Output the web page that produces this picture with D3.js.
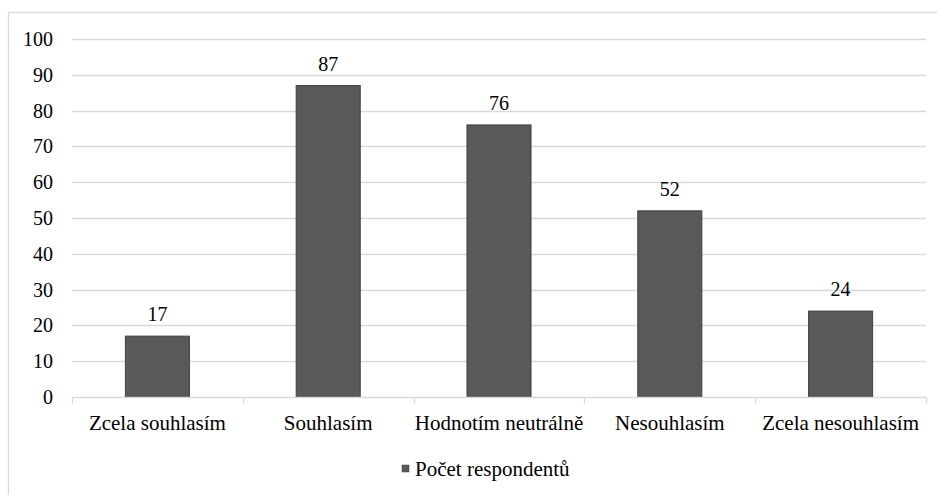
<!DOCTYPE html>
<html>
<head>
<meta charset="utf-8">
<script src="https://cdn.jsdelivr.net/npm/d3@7"></script>
<style>
  html, body { margin: 0; padding: 0; background: #fff; }
  svg { display: block; }
</style>
</head>
<body>
<svg id="chart" width="937" height="495"></svg>
<script>
// Survey answers and the number of respondents per answer
const categories = ["Zcela souhlasím", "Souhlasím", "Hodnotím neutrálně", "Nesouhlasím", "Zcela nesouhlasím"];
const values = [17, 87, 76, 52, 24];
const yTicks = [0, 10, 20, 30, 40, 50, 60, 70, 80, 90, 100];
const seriesName = "Počet respondentů";

const FONT = "'Liberation Serif'";
const svg = d3.select("#chart");
const W = 937, H = 495;
const margin = { left: 72, right: 11, top: 39, bottom: 98 };

// Chart area frame
svg.append("rect")
  .attr("x", 8.5).attr("y", 12.5)
  .attr("width", W + 10).attr("height", H + 10)
  .attr("fill", "#fff").attr("stroke", "#d9d9d9").attr("stroke-width", 1.3);

const x = d3.scaleBand()
  .domain(categories)
  .range([margin.left, W - margin.right])
  .paddingInner(0.625).paddingOuter(0.3125);

const y = d3.scaleLinear()
  .domain([0, 100])
  .range([H - margin.bottom, margin.top]);

// Horizontal gridlines
svg.append("g")
  .selectAll("line")
  .data(yTicks.filter(t => t > 0))
  .join("line")
  .attr("x1", margin.left).attr("x2", W - margin.right)
  .attr("y1", d => Math.round(y(d)) + 0.5).attr("y2", d => Math.round(y(d)) + 0.5)
  .attr("stroke", "#d9d9d9").attr("stroke-width", 1.3);

// Y axis labels
const gy = svg.append("g");
gy.selectAll("text")
  .data(yTicks)
  .join("text")
  .attr("x", 53)
  .attr("y", d => y(d))
  .attr("dy", "0.35em")
  .attr("text-anchor", "end")
  .style("font-family", FONT)
  .style("font-size", "20px")
  .text(d => d);

// Bars
svg.append("g")
  .selectAll("rect")
  .data(values)
  .join("rect")
  .attr("x", (d, i) => x(categories[i]))
  .attr("y", d => y(d))
  .attr("width", x.bandwidth())
  .attr("height", d => y(0) - y(d))
  .attr("fill", "#595959")
  .attr("stroke", "#404040")
  .attr("stroke-width", 1);

// Value labels
svg.append("g")
  .selectAll("text")
  .data(values)
  .join("text")
  .attr("x", (d, i) => x(categories[i]) + x.bandwidth() / 2)
  .attr("y", d => y(d) - 15)
  .attr("text-anchor", "middle")
  .style("font-family", FONT)
  .style("font-size", "20px")
  .text(d => d);

// Category axis with tick marks at band boundaries
const xAxisY = Math.round(y(0)) + 0.5;
svg.append("line")
  .attr("x1", margin.left).attr("x2", W - margin.right)
  .attr("y1", xAxisY).attr("y2", xAxisY)
  .attr("stroke", "#d9d9d9").attr("stroke-width", 1.3);

const boundaries = d3.range(categories.length + 1).map(i => margin.left + i * (W - margin.left - margin.right) / categories.length);
svg.append("g")
  .selectAll("line")
  .data(boundaries)
  .join("line")
  .attr("x1", d => Math.round(d) + 0.5).attr("x2", d => Math.round(d) + 0.5)
  .attr("y1", xAxisY).attr("y2", xAxisY + 6)
  .attr("stroke", "#d9d9d9").attr("stroke-width", 1.3);

svg.append("g")
  .selectAll("text")
  .data(categories)
  .join("text")
  .attr("x", d => x(d) + x.bandwidth() / 2)
  .attr("y", 430)
  .attr("text-anchor", "middle")
  .style("font-family", FONT)
  .style("font-size", "21px")
  .text(d => d);

// Legend
const legend = svg.append("g").attr("transform", "translate(402,465)");
legend.append("rect")
  .attr("width", 7).attr("height", 7)
  .attr("fill", "#595959").attr("stroke", "#404040").attr("stroke-width", 0.5);
legend.append("text")
  .attr("x", 13).attr("y", 11)
  .style("font-family", FONT)
  .style("font-size", "21px")
  .text(seriesName);
</script>
</body>
</html>
